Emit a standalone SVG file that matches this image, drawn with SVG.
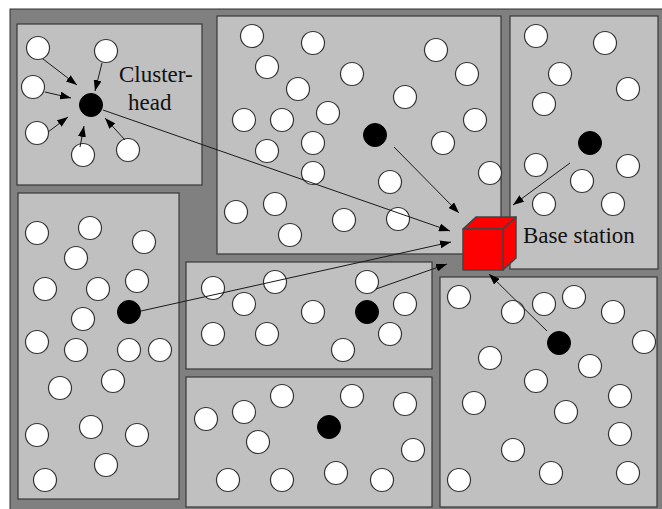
<svg xmlns="http://www.w3.org/2000/svg" width="662" height="509" viewBox="0 0 662 509">
<style>
.bg{fill:#808080;stroke:#303030;stroke-width:1}
.box{fill:#c0c0c0;stroke:#383838;stroke-width:1.2}
.n{fill:#fff;stroke:#333;stroke-width:1.2}
.h{fill:#000;stroke:#000;stroke-width:1}
.c{stroke:#1a1a1a;stroke-width:1;fill:none;marker-end:url(#ah)}
.t{font-family:"Liberation Serif","Times New Roman",serif;font-size:23px;fill:#111}
.cube{fill:#ff0000;stroke:#444;stroke-width:1.5;stroke-linejoin:round}
</style>
<defs>
<marker id="ah" markerUnits="userSpaceOnUse" markerWidth="12" markerHeight="8" refX="11" refY="4" orient="auto">
<path d="M0,0 L11,4 L0,8 Z" fill="#000"/>
</marker>
</defs>
<rect x="0" y="0" width="662" height="509" fill="#fff"/>
<rect class="bg" x="10" y="9" width="656" height="505"/>

<g id="cluster-a">
<rect class="box" x="17" y="24" width="185" height="161"/>
<circle class="n" cx="38" cy="48" r="11.5"/>
<circle class="n" cx="106" cy="51" r="11.5"/>
<circle class="n" cx="33" cy="87" r="11.5"/>
<circle class="n" cx="37" cy="133" r="11.5"/>
<circle class="n" cx="83" cy="155" r="11.5"/>
<circle class="n" cx="128" cy="150" r="11.5"/>
<circle id="head-a" class="h" cx="91" cy="105" r="11.5"/>
<text class="t" x="119" y="82">Cluster-</text>
<text class="t" x="128" y="110">head</text>
</g>

<g id="cluster-b">
<rect class="box" x="217" y="16" width="284" height="238"/>
<circle class="n" cx="252" cy="36" r="11.5"/>
<circle class="n" cx="313" cy="43" r="11.5"/>
<circle class="n" cx="267" cy="67" r="11.5"/>
<circle class="n" cx="352" cy="74" r="11.5"/>
<circle class="n" cx="298" cy="89" r="11.5"/>
<circle class="n" cx="405" cy="97" r="11.5"/>
<circle class="n" cx="244" cy="120" r="11.5"/>
<circle class="n" cx="282" cy="120" r="11.5"/>
<circle class="n" cx="328" cy="113" r="11.5"/>
<circle class="n" cx="313" cy="143" r="11.5"/>
<circle class="n" cx="267" cy="151" r="11.5"/>
<circle class="n" cx="313" cy="173" r="11.5"/>
<circle class="n" cx="390" cy="182" r="11.5"/>
<circle class="n" cx="236" cy="212" r="11.5"/>
<circle class="n" cx="275" cy="204" r="11.5"/>
<circle class="n" cx="290" cy="235" r="11.5"/>
<circle class="n" cx="344" cy="220" r="11.5"/>
<circle class="n" cx="398" cy="219" r="11.5"/>
<circle class="n" cx="436" cy="50" r="11.5"/>
<circle class="n" cx="467" cy="74" r="11.5"/>
<circle class="n" cx="475" cy="120" r="11.5"/>
<circle class="n" cx="443" cy="143" r="11.5"/>
<circle class="n" cx="490" cy="173" r="11.5"/>
<circle id="head-b" class="h" cx="375" cy="135" r="11.5"/>
</g>

<g id="cluster-c">
<rect class="box" x="510" y="16" width="148" height="253"/>
<circle class="n" cx="536" cy="36" r="11.5"/>
<circle class="n" cx="605" cy="43" r="11.5"/>
<circle class="n" cx="560" cy="74" r="11.5"/>
<circle class="n" cx="628" cy="89" r="11.5"/>
<circle class="n" cx="544" cy="104" r="11.5"/>
<circle class="n" cx="536" cy="165" r="11.5"/>
<circle class="n" cx="582" cy="181" r="11.5"/>
<circle class="n" cx="628" cy="166" r="11.5"/>
<circle class="n" cx="544" cy="204" r="11.5"/>
<circle class="n" cx="613" cy="204" r="11.5"/>
<circle id="head-c" class="h" cx="590" cy="143" r="11.5"/>
</g>

<g id="cluster-d">
<rect class="box" x="18" y="193" width="161" height="306"/>
<circle class="n" cx="37" cy="233" r="11.5"/>
<circle class="n" cx="90" cy="228" r="11.5"/>
<circle class="n" cx="144" cy="242" r="11.5"/>
<circle class="n" cx="76" cy="258" r="11.5"/>
<circle class="n" cx="45" cy="289" r="11.5"/>
<circle class="n" cx="98" cy="289" r="11.5"/>
<circle class="n" cx="137" cy="281" r="11.5"/>
<circle class="n" cx="83" cy="319" r="11.5"/>
<circle class="n" cx="37" cy="342" r="11.5"/>
<circle class="n" cx="76" cy="350" r="11.5"/>
<circle class="n" cx="129" cy="350" r="11.5"/>
<circle class="n" cx="160" cy="350" r="11.5"/>
<circle class="n" cx="60" cy="388" r="11.5"/>
<circle class="n" cx="113" cy="381" r="11.5"/>
<circle class="n" cx="37" cy="435" r="11.5"/>
<circle class="n" cx="91" cy="427" r="11.5"/>
<circle class="n" cx="137" cy="435" r="11.5"/>
<circle class="n" cx="106" cy="465" r="11.5"/>
<circle class="n" cx="45" cy="480" r="11.5"/>
<circle id="head-d" class="h" cx="129" cy="312" r="11.5"/>
</g>

<g id="cluster-e">
<rect class="box" x="186" y="262" width="246" height="107"/>
<circle class="n" cx="213" cy="288" r="11.5"/>
<circle class="n" cx="213" cy="334" r="11.5"/>
<circle class="n" cx="275" cy="282" r="11.5"/>
<circle class="n" cx="244" cy="304" r="11.5"/>
<circle class="n" cx="313" cy="312" r="11.5"/>
<circle class="n" cx="367" cy="282" r="11.5"/>
<circle class="n" cx="405" cy="304" r="11.5"/>
<circle class="n" cx="390" cy="334" r="11.5"/>
<circle class="n" cx="343" cy="350" r="11.5"/>
<circle class="n" cx="267" cy="334" r="11.5"/>
<circle id="head-e" class="h" cx="367" cy="312" r="11.5"/>
</g>

<g id="cluster-g">
<rect class="box" x="186" y="377" width="246" height="130"/>
<circle class="n" cx="206" cy="419" r="11.5"/>
<circle class="n" cx="228" cy="480" r="11.5"/>
<circle class="n" cx="282" cy="396" r="11.5"/>
<circle class="n" cx="244" cy="412" r="11.5"/>
<circle class="n" cx="258" cy="442" r="11.5"/>
<circle class="n" cx="352" cy="396" r="11.5"/>
<circle class="n" cx="405" cy="404" r="11.5"/>
<circle class="n" cx="413" cy="450" r="11.5"/>
<circle class="n" cx="336" cy="473" r="11.5"/>
<circle class="n" cx="382" cy="480" r="11.5"/>
<circle class="n" cx="282" cy="480" r="11.5"/>
<circle id="head-g" class="h" cx="329" cy="427" r="11.5"/>
</g>

<g id="cluster-f">
<rect class="box" x="440" y="277" width="217" height="230"/>
<circle class="n" cx="459" cy="297" r="11.5"/>
<circle class="n" cx="513" cy="312" r="11.5"/>
<circle class="n" cx="544" cy="304" r="11.5"/>
<circle class="n" cx="574" cy="297" r="11.5"/>
<circle class="n" cx="613" cy="312" r="11.5"/>
<circle class="n" cx="644" cy="342" r="11.5"/>
<circle class="n" cx="490" cy="358" r="11.5"/>
<circle class="n" cx="590" cy="366" r="11.5"/>
<circle class="n" cx="536" cy="381" r="11.5"/>
<circle class="n" cx="474" cy="403" r="11.5"/>
<circle class="n" cx="620" cy="396" r="11.5"/>
<circle class="n" cx="566" cy="412" r="11.5"/>
<circle class="n" cx="620" cy="434" r="11.5"/>
<circle class="n" cx="513" cy="450" r="11.5"/>
<circle class="n" cx="459" cy="480" r="11.5"/>
<circle class="n" cx="551" cy="473" r="11.5"/>
<circle class="n" cx="628" cy="473" r="11.5"/>
<circle id="head-f" class="h" cx="559" cy="343" r="11.5"/>
</g>

<g id="base-station">
<polygon class="cube" points="463,229 476,217 516,217 503,229"/>
<polygon class="cube" points="503,229 516,217 516,258 503,270"/>
<rect class="cube" x="463" y="229" width="40" height="41"/>
<text class="t" x="523" y="243">Base station</text>
</g>

<g id="connectors">
<line class="c" x1="43" y1="59" x2="77" y2="85"/>
<line class="c" x1="102" y1="63" x2="95" y2="91"/>
<line class="c" x1="45" y1="92" x2="71" y2="98"/>
<line class="c" x1="48" y1="132" x2="68" y2="117"/>
<line class="c" x1="80" y1="147" x2="84" y2="126"/>
<line class="c" x1="125" y1="140" x2="105" y2="118"/>
<line class="c" x1="103" y1="110" x2="450" y2="231"/>
<line class="c" x1="394" y1="147" x2="459" y2="213"/>
<line class="c" x1="570" y1="163" x2="513" y2="205"/>
<line class="c" x1="141" y1="311" x2="451" y2="242"/>
<line class="c" x1="376" y1="289" x2="447" y2="264"/>
<line class="c" x1="547" y1="331" x2="489" y2="274"/>
</g>
</svg>
